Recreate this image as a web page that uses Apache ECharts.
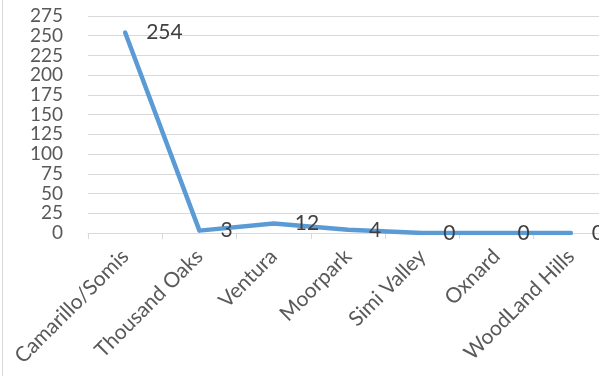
<!DOCTYPE html>
<html>
<head>
<meta charset="utf-8">
<script src="https://cdn.jsdelivr.net/npm/echarts@6/dist/echarts.min.js"></script>
<style>
html,body{margin:0;padding:0;background:#fff;overflow:hidden;width:599px;height:376px;}
#chart{width:610px;height:376px;}
</style>
</head>
<body>
<div id="chart"></div>
<script>
var categories = ['Camarillo/Somis', 'Thousand Oaks', 'Ventura', 'Moorpark', 'Simi Valley', 'Oxnard', 'WoodLand Hills'];
var values = [254, 3, 12, 4, 0, 0, 0];
var yMax = 275;
var yStep = 25;

var chart = echarts.init(document.getElementById('chart'));
var font = 'Lato, "Open Sans", sans-serif';
var option = {
    animation: false,
    graphic: [{
        type: 'line',
        shape: { x1: 2.5, y1: 0, x2: 2.5, y2: 376 },
        style: { stroke: '#d9d9d9', lineWidth: 1 }
    }],
    grid: {
        left: 88,
        right: 2,
        top: 16,
        bottom: 143,
        containLabel: false
    },
    xAxis: {
        type: 'category',
        data: categories,
        boundaryGap: true,
        axisLine: { show: true, lineStyle: { color: '#d9d9d9', width: 1 } },
        axisTick: { show: true, length: 6, lineStyle: { color: '#d9d9d9' } },
        axisLabel: {
            rotate: 45,
            interval: 0,
            margin: 20,
            color: '#595959',
            fontSize: 21,
            fontFamily: font
        }
    },
    yAxis: {
        type: 'value',
        min: 0,
        max: yMax,
        interval: yStep,
        axisLine: { show: false },
        axisTick: { show: false },
        splitLine: { show: true, lineStyle: { color: '#d9d9d9', width: 1 } },
        axisLabel: {
            margin: 25,
            color: '#595959',
            fontSize: 19,
            fontFamily: font
        }
    },
    series: [{
        type: 'line',
        data: values,
        symbol: 'circle',
        symbolSize: 2,
        showSymbol: true,
        itemStyle: { color: 'rgba(91,155,213,0)' },
        lineStyle: { color: '#5b9bd5', width: 4.5, cap: 'round', join: 'round' },
        label: {
            show: true,
            position: 'right',
            distance: 20,
            color: '#404040',
            fontSize: 21,
            fontFamily: font
        }
    }]
};
chart.setOption(option);
window.addEventListener('resize', function () {
    chart.resize();
});
</script>
</body>
</html>
